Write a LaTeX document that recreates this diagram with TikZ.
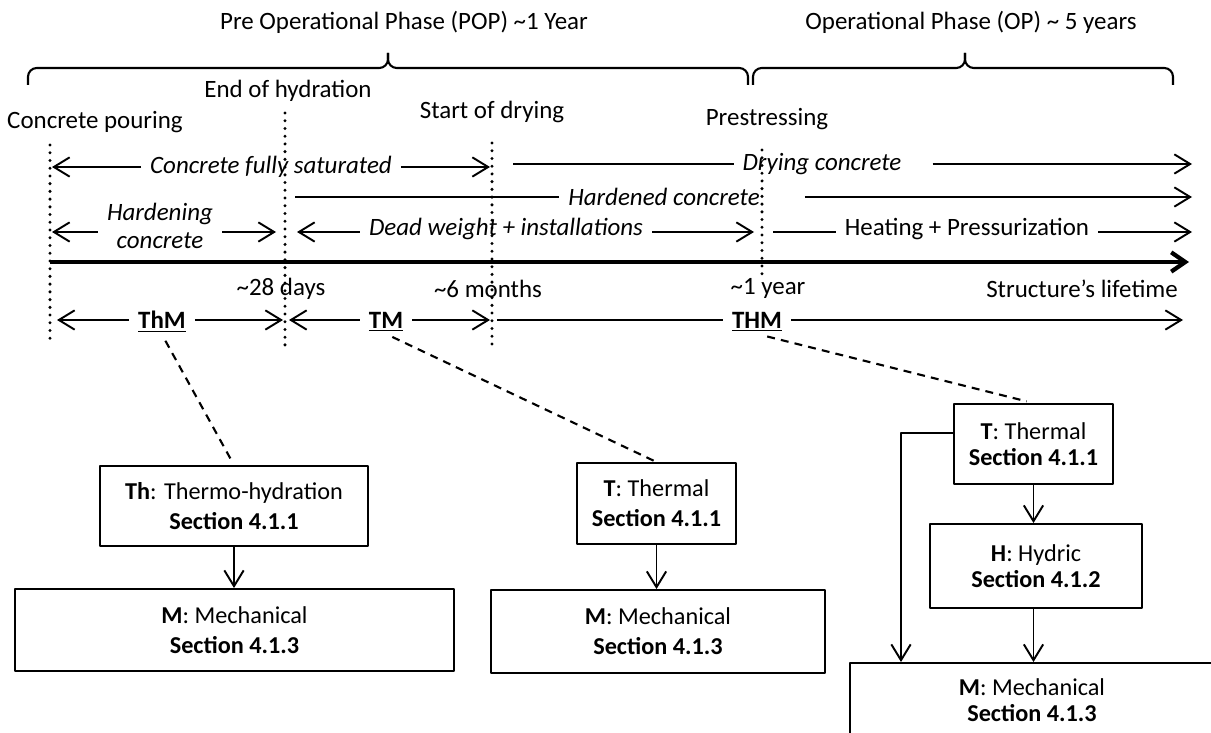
\documentclass[tikz,border=0pt]{standalone}
\usepackage{fontspec}
\setmainfont{Carlito}
\usetikzlibrary{arrows.meta}
\usetikzlibrary{calc}
\usetikzlibrary{positioning}

\begin{document}
\begin{tikzpicture}[x=0.02cm, y=-0.02cm, line join=bevel]

    % one unit is one pixel of the original figure, y grows downwards
    \clip (0,0) rectangle (1211,733);

    \tikzset{%
      label_text/.style  = {font=\fontsize{14.2}{16}\selectfont, inner xsep=5pt, inner ysep=1pt},
      span_text/.style   = {label_text, font=\fontsize{14.2}{16}\selectfont\itshape, align=center},
      model_text/.style  = {label_text, font=\fontsize{14.2}{16}\selectfont\bfseries},
      barb_tip/.style    = {-{Straight Barb[length=9pt,width=11pt]}, line width=1.1pt},
      plain_span/.style  = {line width=1.1pt},
      time_axis/.style   = {-{Straight Barb[length=8pt,width=11pt]}, line width=2.4pt},
      dot_mark/.style    = {line width=1.9pt, line cap=round, dash pattern=on 0pt off 4.4pt},
      link_dashed/.style = {line width=1.2pt, dash pattern=on 4.5pt off 3.5pt},
      phase_brace/.style = {line width=1.2pt},
      model_box/.style   = {draw, line width=1.1pt, align=center, inner sep=2pt,
                            font=\fontsize{13.8}{17}\selectfont}
    }

    % phases
    \node[label_text] (popLabel) at (404,22) {Pre Operational Phase (POP) \textasciitilde1 Year};
    \node[label_text] (opLabel)  at (971,22) {Operational Phase (OP) \textasciitilde{} 5 years};

    \foreach \xa/\xm/\xb in {28/388/748, 753/965/1173}{
      \draw[phase_brace, rounded corners=5pt] (\xa,85) -- (\xa,68) -- (\xm,68) -- (\xm,53);
      \draw[phase_brace, rounded corners=5pt] (\xb,85) -- (\xb,68) -- (\xm,68) -- (\xm,53);
    }

    % events
    \node[label_text] (pour)  at (95,122)  {Concrete pouring};
    \node[label_text] (hydr)  at (288,91)  {End of hydration};
    \node[label_text] (dryst) at (492,112) {Start of drying};
    \node[label_text] (prest) at (767,119) {Prestressing};

    \foreach \i/\x/\ytop/\ybot in {0/50/145/345, 1/285/113/345, 2/492/143/345, 3/762/150/276}{
      \coordinate (d\i)   at (\x,\ytop);
      \coordinate (d\i b) at (\x,\ybot);
      \draw[dot_mark] (d\i) -- (d\i b);
    }
    \coordinate (tend) at (1192,0);

    % state of the concrete
    \node[span_text] (sat) at (271,167) {Concrete fully saturated};
    \draw[barb_tip] (sat.west) -- ($(sat.west -| d0)+(2,0)$);
    \draw[barb_tip] (sat.east) -- ($(sat.east -| d2)+(-2,0)$);
    \node[span_text] (dry) at (822,164) {Drying concrete};
    \draw[plain_span] (dry.west) -- ($(dry.west -| d2)+(21,0)$);
    \draw[barb_tip] ($(dry.east)+(22,0)$) -- (dry.east -| tend);

    \node[span_text] (hrd) at (664,197) {Hardened concrete};
    \draw[plain_span] ($(hrd.west -| d1)+(10,0)$) -- (hrd.west);
    \draw[barb_tip] ($(hrd.east)+(36,0)$) -- (hrd.east -| tend);

    % loads
    \coordinate (r3) at (0,232);
    \node[span_text] (hdn) at (160,226) {Hardening\\concrete};
    \draw[barb_tip] (hdn.west |- r3) -- ($(r3 -| d0)+(2,0)$);
    \draw[barb_tip] (hdn.east |- r3) -- ($(r3 -| d1)+(-9,0)$);
    \node[span_text] (dw) at (506,229) {Dead weight + installations};
    \draw[barb_tip] (dw.west |- r3) -- ($(r3 -| d1)+(12,0)$);
    \draw[barb_tip] (dw.east |- r3) -- ($(r3 -| d3)+(-8,0)$);
    \node[label_text] (heat) at (967,229) {Heating + Pressurization};
    \draw[plain_span] (heat.west |- r3) -- ($(r3 -| d3)+(11,0)$);
    \draw[barb_tip] (heat.east |- r3) -- (r3 -| tend);

    % time axis
    \coordinate (ax) at (0,262);
    \draw[time_axis] (ax -| d0) -- ($(ax -| tend)+(-3,0)$);

    \node[label_text] (t28)  at (281,289)  {\textasciitilde28 days};
    \node[label_text] (t6m)  at (488,289)  {\textasciitilde6 months};
    \node[label_text] (t1y)  at (768,288)  {\textasciitilde1 year};
    \node[label_text] (life) at (1082,289) {Structure’s lifetime};

    % models
    \coordinate (r5) at (0,320);
    \node[model_text] (thm) at (162,322) {\underline{ThM}};
    \draw[barb_tip] (thm.west |- r5) -- ($(r5 -| d0)+(7,0)$);
    \draw[barb_tip] (thm.east |- r5) -- ($(r5 -| d1)+(-2,0)$);
    \node[model_text] (tm) at (386,322) {\underline{TM}};
    \draw[barb_tip] (tm.west |- r5) -- ($(r5 -| d1)+(4,0)$);
    \draw[barb_tip] (tm.east |- r5) -- ($(r5 -| d2)+(-2,0)$);
    \node[model_text] (thmfull) at (757,322) {\underline{THM}};
    \draw[plain_span] ($(r5 -| d2)+(5,0)$) -- (thmfull.west |- r5);
    \draw[barb_tip] (thmfull.east |- r5) -- ($(r5 -| tend)+(-9,0)$);

    % coupling schemes
    \node[model_box, minimum width=5.36cm, minimum height=1.6cm]  (thbox) at (234,506)
      {\textbf{Th}: Thermo-hydration\\\textbf{Section 4.1.1}};
    \node[model_box, minimum width=8.78cm, minimum height=1.64cm] (m1) at (234.5,630)
      {\textbf{M}: Mechanical\\\textbf{Section 4.1.3}};

    \node[model_box, minimum width=3.18cm, minimum height=1.62cm] (t2) at (656.5,503.5)
      {\textbf{T}: Thermal\\\textbf{Section 4.1.1}};
    \node[model_box, minimum width=6.68cm, minimum height=1.66cm] (m2) at (658,631.5)
      {\textbf{M}: Mechanical\\\textbf{Section 4.1.3}};

    \node[model_box, minimum width=3.18cm, minimum height=1.6cm,
          font=\fontsize{13.8}{14.5}\selectfont]                  (t3) at (1033.5,444)
      {\textbf{T}: Thermal\\\textbf{Section 4.1.1}};
    \node[model_box, minimum width=4.24cm, minimum height=1.68cm,
          font=\fontsize{13.8}{14.5}\selectfont]                  (h3) at (1036,566)
      {\textbf{H}: Hydric\\\textbf{Section 4.1.2}};
    \node[model_box, minimum width=7.28cm, minimum height=1.48cm,
          font=\fontsize{13.8}{14.5}\selectfont]                  (m3) at (1032,700)
      {\textbf{M}: Mechanical\\\textbf{Section 4.1.3}};

    \draw[link_dashed, shorten <=4pt, shorten >=3pt] (thm.south) -- (thbox.north);
    \draw[link_dashed, shorten <=4pt, shorten >=1pt] (tm.south) -- (t2.north);
    \draw[link_dashed, shorten <=6pt, shorten >=4pt] (thmfull.south) -- (t3.north);

    \draw[barb_tip] (thbox.south) -- (thbox.south |- m1.north);
    \draw[barb_tip] (t2.south) -- (t2.south |- m2.north);
    \draw[barb_tip] (t3.south) -- (t3.south |- h3.north);
    \draw[barb_tip] (h3.south -| t3) -- (t3 |- m3.north);
    \coordinate (bypass) at (901,0);
    \draw[barb_tip] ($(t3.west)+(0,-11)$) -| (bypass |- m3.north);

\end{tikzpicture}
\end{document}
